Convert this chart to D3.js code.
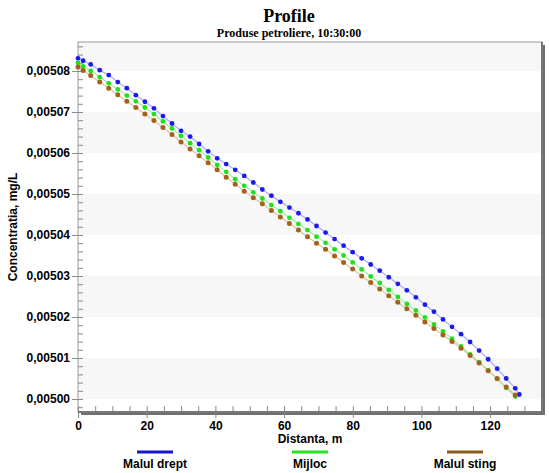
<!DOCTYPE html>
<html><head><meta charset="utf-8">
<script src="https://cdn.jsdelivr.net/npm/d3@7"></script>
<style>body{margin:0;background:#fff} svg{display:block}</style>
</head><body><svg id="c" width="549" height="473"></svg>
<script>
const distance = [0, 1.5, 3.7, 6.33, 8.96, 11.59, 14.22, 16.85, 19.48, 22.11, 24.74, 27.37, 30.0, 32.63, 35.26, 37.89, 40.52, 43.15, 45.78, 48.41, 51.04, 53.67, 56.3, 58.93, 61.56, 64.19, 66.82, 69.45, 72.08, 74.71, 77.34, 79.97, 82.6, 85.23, 87.86, 90.49, 93.12, 95.75, 98.38, 101.01, 103.64, 106.27, 108.9, 111.53, 114.16, 116.79, 119.42, 122.05, 124.68, 127.31, 128.5];
const malulDrept = [0.0050831, 0.0050825, 0.0050816, 0.0050802, 0.0050790, 0.0050773, 0.0050758, 0.0050741, 0.0050725, 0.0050709, 0.0050690, 0.0050672, 0.0050654, 0.0050640, 0.0050622, 0.0050604, 0.0050587, 0.0050573, 0.0050559, 0.0050544, 0.0050528, 0.0050511, 0.0050496, 0.0050481, 0.0050467, 0.0050453, 0.0050438, 0.0050422, 0.0050406, 0.0050390, 0.0050374, 0.0050358, 0.0050343, 0.0050328, 0.0050313, 0.0050297, 0.0050281, 0.0050265, 0.0050248, 0.0050230, 0.0050213, 0.0050194, 0.0050176, 0.0050158, 0.0050139, 0.0050118, 0.0050097, 0.0050074, 0.0050050, 0.0050026, 0.0050011];
const mijloc = [0.0050820, 0.0050811, 0.0050800, 0.0050785, 0.0050770, 0.0050755, 0.0050740, 0.0050726, 0.0050711, 0.0050695, 0.0050677, 0.0050660, 0.0050642, 0.0050624, 0.0050607, 0.0050589, 0.0050571, 0.0050554, 0.0050536, 0.0050520, 0.0050504, 0.0050489, 0.0050473, 0.0050458, 0.0050442, 0.0050427, 0.0050412, 0.0050396, 0.0050381, 0.0050365, 0.0050350, 0.0050333, 0.0050316, 0.0050299, 0.0050283, 0.0050266, 0.0050249, 0.0050232, 0.0050216, 0.0050199, 0.0050182, 0.0050165, 0.0050147, 0.0050128, 0.0050109, 0.0050090, 0.0050070, 0.0050049, 0.0050027, 0.0050006];
const malulSting = [0.0050810, 0.0050801, 0.0050789, 0.0050773, 0.0050758, 0.0050742, 0.0050726, 0.0050711, 0.0050695, 0.0050679, 0.0050662, 0.0050645, 0.0050627, 0.0050610, 0.0050593, 0.0050576, 0.0050559, 0.0050541, 0.0050524, 0.0050507, 0.0050491, 0.0050476, 0.0050460, 0.0050444, 0.0050428, 0.0050412, 0.0050396, 0.0050380, 0.0050365, 0.0050349, 0.0050333, 0.0050317, 0.0050300, 0.0050284, 0.0050268, 0.0050252, 0.0050236, 0.0050220, 0.0050204, 0.0050188, 0.0050172, 0.0050156, 0.0050140, 0.0050124, 0.0050106, 0.0050088, 0.0050069, 0.0050050, 0.0050029, 0.0050010];
const seriesNames = ["Malul drept", "Mijloc", "Malul sting"];
const xTicks = [0, 20, 40, 60, 80, 100, 120];
const yTicks = [0.00500, 0.00501, 0.00502, 0.00503, 0.00504, 0.00505, 0.00506, 0.00507, 0.00508];

const styles = [
  {dot: "#1a1aee", line: "#a8aaff", legend: "#1515d8", r: 2.4},
  {dot: "#1ee21e", line: "#9ff09f", legend: "#22e622", r: 2.4},
  {dot: "#a2621e", line: "#dcc2a4", legend: "#8c5a1c", r: 2.5}
];
const seriesVals = [malulDrept, mijloc, malulSting];

const svg = d3.select("#c");
const L = 78, R = 542, T = 42, B = 412;
const x = d3.scaleLinear().domain([0, 135.1]).range([L, R]);
const y = d3.scaleLinear().domain([0.005, 0.00508]).range([399, 71]);

// title
svg.append("text").attr("x", 289).attr("y", 22).attr("text-anchor", "middle")
  .style("font", "bold 18px 'Liberation Serif', 'Times New Roman', serif").text("Profile");
svg.append("text").attr("x", 289).attr("y", 37).attr("text-anchor", "middle")
  .style("font", "bold 12px 'Liberation Serif', 'Times New Roman', serif").text("Produse petroliere, 10:30:00");

// shadow
svg.append("rect").attr("x", L + 3).attr("y", T + 3).attr("width", R - L).attr("height", B - T).attr("fill", "#6f6f6f");
svg.append("rect").attr("x", L).attr("y", T).attr("width", R - L).attr("height", B - T).attr("fill", "#fff");

// bands
const bandsY = [0.00500, 0.00502, 0.00504, 0.00506, 0.00508];
svg.append("g").selectAll("rect").data(bandsY).join("rect")
  .attr("x", L).attr("width", R - L)
  .attr("y", d => d === 0.00508 ? T : y(d + 0.00001))
  .attr("height", d => d === 0.00508 ? y(d) - T : y(d) - y(d + 0.00001))
  .attr("fill", "#f7f7f7");

svg.append("rect").attr("x", L).attr("y", T).attr("width", R - L).attr("height", B - T)
  .attr("fill", "none").attr("stroke", "#9a9a9a").attr("stroke-width", 1);

const font = "bold 12px 'Liberation Sans', Arial, sans-serif";

// x axis minor ticks
const xMinor = d3.range(0, 136, 5);
const gx = svg.append("g").attr("transform", `translate(0,${B})`);
gx.call(d3.axisBottom(x).tickValues(xMinor).tickSize(-6).tickFormat(""));
gx.select(".domain").remove();
gx.selectAll(".tick line").attr("stroke", "#8a8a8a");
const gx2 = svg.append("g").attr("transform", `translate(0,${B})`);
gx2.call(d3.axisBottom(x).tickValues(xTicks).tickSize(6).tickPadding(3).tickFormat(d3.format("d")));
gx2.select(".domain").remove();
gx2.selectAll(".tick line").attr("stroke", "#8a8a8a");
gx2.selectAll(".tick text").style("font", font).attr("fill", "#000");

// y axis
const yMinor = d3.range(-1, 44).map(i => 0.005 + i * 0.000002);
const gy = svg.append("g").attr("transform", `translate(${L},0)`);
gy.call(d3.axisLeft(y).tickValues(yMinor).tickSize(-5).tickFormat(""));
gy.select(".domain").remove();
gy.selectAll(".tick line").attr("stroke", "#8a8a8a");
const fmt = v => d3.format(".5f")(v).replace(".", ",");
const gy2 = svg.append("g").attr("transform", `translate(${L},0)`);
gy2.call(d3.axisLeft(y).tickValues(yTicks).tickSize(6).tickPadding(2).tickFormat(fmt));
gy2.select(".domain").remove();
gy2.selectAll(".tick line").attr("stroke", "#8a8a8a");
gy2.selectAll(".tick text").style("font", font).attr("fill", "#000");

// bottom axis line (thick)
svg.append("line").attr("x1", L).attr("x2", R + 2).attr("y1", B).attr("y2", B)
  .attr("stroke", "#777").attr("stroke-width", 2);
svg.append("line").attr("x1", R).attr("x2", R).attr("y1", T).attr("y2", B)
  .attr("stroke", "#777").attr("stroke-width", 2);

// series
const plot = svg.append("g");
seriesVals.forEach((vals, i) => {
  const pts = vals.map((v, j) => [distance[j], v]);
  plot.append("path").datum(pts)
    .attr("d", d3.line().x(d => x(d[0])).y(d => y(d[1])))
    .attr("fill", "none").attr("stroke", styles[i].line).attr("stroke-width", 1.2);
});
seriesVals.forEach((vals, i) => {
  const pts = vals.map((v, j) => [distance[j], v]);
  plot.append("g").selectAll("circle").data(pts).join("circle")
    .attr("cx", d => x(d[0])).attr("cy", d => y(d[1])).attr("r", styles[i].r)
    .attr("fill", styles[i].dot);
});

// axis titles
svg.append("text").attr("x", (L + R) / 2).attr("y", 443).attr("text-anchor", "middle")
  .style("font", font).text("Distanta, m");
svg.append("text").attr("transform", `translate(17,${(T + B) / 2}) rotate(-90)`).attr("text-anchor", "middle")
  .style("font", font).text("Concentratia, mg/L");

// legend
const legX = [155, 310, 465];
const lg = svg.append("g").selectAll("g").data(seriesNames).join("g")
  .attr("transform", (d, i) => `translate(${legX[i]},0)`);
lg.append("line").attr("x1", -18).attr("x2", 18).attr("y1", 452).attr("y2", 452)
  .attr("stroke", (d, i) => styles[i].legend).attr("stroke-width", 3);
lg.append("text").attr("y", 468).attr("text-anchor", "middle").style("font", font).text(d => d);
</script></body></html>
